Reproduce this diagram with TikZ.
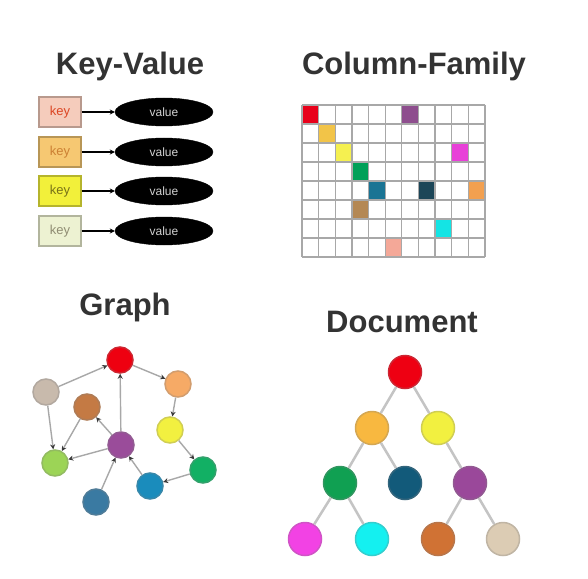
\documentclass[tikz,border=0pt]{standalone}
\usepackage{fontspec}
\setmainfont{Liberation Sans}
\usetikzlibrary{shapes.geometric,arrows.meta}
\definecolor{titlec}{HTML}{333333}
\definecolor{gridc}{HTML}{A8A8A8}
\definecolor{gedge}{HTML}{A8A8A8}
\definecolor{dedge}{HTML}{C4C4C4}
\definecolor{tipc}{HTML}{3A3A3A}
\tikzset{
  title/.style={font=\bfseries\fontsize{31bp}{36bp}\selectfont, text=titlec, anchor=base, inner sep=0pt},
  keybox/.style={draw=#1!75!black, line width=1.2bp, fill=#1, minimum width=42bp, minimum height=30bp, inner sep=0pt, font=\fontsize{13bp}{15bp}\selectfont},
  valbox/.style={ellipse, fill=black, draw=black, minimum width=98bp, minimum height=28bp, inner sep=0pt, text=white!82!black, font=\fontsize{12bp}{14bp}\selectfont},
  kvarrow/.style={line width=1.5bp, -{Stealth[length=5bp,width=5bp]}},
  gnode/.style={circle, fill=#1, draw=#1!70!gray, line width=1.5bp, minimum size=26bp, inner sep=0pt},
  garrow/.style={draw=gedge, line width=1.4bp, -{Stealth[length=5bp,width=5bp,color=tipc]}},
  dnode/.style={circle, fill=#1, draw=#1!70!gray, line width=1.5bp, minimum size=33bp, inner sep=0pt},
  dline/.style={draw=dedge, line width=2.5bp},
  gridline/.style={draw=gridc, line width=1.3bp}
}
\begin{document}
\begin{tikzpicture}[x=1bp,y=-1bp]
\useasboundingbox (0,0) rectangle (588,579);
\fill[white] (0,0) rectangle (588,579);

% titles
\node[title] (tkv) at (130,75) {Key-Value};
\node[title] (tcf) at (414,75) {Column-Family};
\node[title] (tg) at (125,315) {Graph};
\node[title] (td) at (402,332) {Document};

% key-value
\definecolor{k1}{HTML}{F5CCBC}
\definecolor{k2}{HTML}{F6C872}
\definecolor{k3}{HTML}{F2F03A}
\definecolor{k4}{HTML}{EDF2D2}
\node[keybox=k1, text=red!45!brown] (key1) at (60,112) {key};
\node[keybox=k2, text=brown!80!orange] (key2) at (60,152) {key};
\node[keybox=k3, text=olive!80!black] (key3) at (60,191) {key};
\node[keybox=k4, text=gray!80!olive] (key4) at (60,231) {key};
\node[valbox] (val1) at (164,112) {value};
\node[valbox] (val2) at (164,152) {value};
\node[valbox] (val3) at (164,191) {value};
\node[valbox] (val4) at (164,231) {value};
\foreach \i in {1,...,4} {\draw[kvarrow] (key\i) -- (val\i);}

% column family grid: 11 cols x 8 rows
\def\gx{302}\def\gy{105}
\def\cw{16.636}\def\ch{19}
\definecolor{c1}{HTML}{E8001A}
\definecolor{c2}{HTML}{8E4E8E}
\definecolor{c3}{HTML}{F2C448}
\definecolor{c4}{HTML}{F5F050}
\definecolor{c5}{HTML}{E840D8}
\definecolor{c6}{HTML}{00A058}
\definecolor{c7}{HTML}{1A7494}
\definecolor{c8}{HTML}{1C4658}
\definecolor{c9}{HTML}{F2A050}
\definecolor{c10}{HTML}{B48854}
\definecolor{c11}{HTML}{14E4E4}
\definecolor{c12}{HTML}{F4A898}
\foreach \c/\r/\col in {0/0/c1, 6/0/c2, 1/1/c3, 2/2/c4, 9/2/c5, 3/3/c6, 4/4/c7, 7/4/c8, 10/4/c9, 3/5/c10, 8/6/c11, 5/7/c12} {
  \fill[\col] ({\gx+\c*\cw},{\gy+\r*\ch}) rectangle ++(\cw,\ch);
}
\foreach \c in {0,...,11} {\draw[gridline] ({\gx+\c*\cw},\gy) -- ++(0,152);}
\foreach \r in {0,...,8} {\draw[gridline] (\gx,{\gy+\r*\ch}) -- ++(183,0);}

% graph
\definecolor{g1}{HTML}{EE0010}
\definecolor{g2}{HTML}{C8BAAC}
\definecolor{g3}{HTML}{F6AA66}
\definecolor{g4}{HTML}{C47A44}
\definecolor{g5}{HTML}{F2F040}
\definecolor{g6}{HTML}{9A4C9A}
\definecolor{g7}{HTML}{9CD456}
\definecolor{g8}{HTML}{12B064}
\definecolor{g9}{HTML}{1A8CBC}
\definecolor{g10}{HTML}{3A7AA2}
\node[gnode=g1] (gred) at (120,360) {};
\node[gnode=g2] (gtan) at (46,392) {};
\node[gnode=g3] (gora) at (178,384) {};
\node[gnode=g4] (gbrn) at (87,407) {};
\node[gnode=g5] (gyel) at (170,430) {};
\node[gnode=g6] (gpur) at (121,445) {};
\node[gnode=g7] (glgr) at (55,463) {};
\node[gnode=g8] (ggrn) at (203,470) {};
\node[gnode=g9] (gblu) at (150,486) {};
\node[gnode=g10] (gdbl) at (96,502) {};
\draw[garrow] (gtan) -- (gred);
\draw[garrow] (gred) -- (gora);
\draw[garrow] (gora) -- (gyel);
\draw[garrow] (gyel) -- (ggrn);
\draw[garrow] (ggrn) -- (gblu);
\draw[garrow] (gblu) -- (gpur);
\draw[garrow] (gdbl) -- (gpur);
\draw[garrow] (gpur) -- (gred);
\draw[garrow] (gpur) -- (gbrn);
\draw[garrow] (gpur) -- (glgr);
\draw[garrow] (gbrn) -- (glgr);
\draw[garrow] (gtan) -- (glgr);

% document tree
\definecolor{d1}{HTML}{EE0012}
\definecolor{d2}{HTML}{F8B840}
\definecolor{d3}{HTML}{F2F040}
\definecolor{d4}{HTML}{10A052}
\definecolor{d5}{HTML}{125A7A}
\definecolor{d6}{HTML}{9A489A}
\definecolor{d7}{HTML}{F242E4}
\definecolor{d8}{HTML}{14F0F0}
\definecolor{d9}{HTML}{D07234}
\definecolor{d10}{HTML}{DCCCB4}
\node[dnode=d1] (dred) at (405,372) {};
\node[dnode=d2] (dora) at (372,428) {};
\node[dnode=d3] (dyel) at (438,428) {};
\node[dnode=d4] (dgrn) at (340,483) {};
\node[dnode=d5] (dblu) at (405,483) {};
\node[dnode=d6] (dpur) at (470,483) {};
\node[dnode=d7] (dmag) at (305,539) {};
\node[dnode=d8] (dcya) at (372,539) {};
\node[dnode=d9] (dbrn) at (438,539) {};
\node[dnode=d10] (dbei) at (503,539) {};
\draw[dline] (dred) -- (dora);
\draw[dline] (dred) -- (dyel);
\draw[dline] (dora) -- (dgrn);
\draw[dline] (dora) -- (dblu);
\draw[dline] (dyel) -- (dpur);
\draw[dline] (dgrn) -- (dmag);
\draw[dline] (dgrn) -- (dcya);
\draw[dline] (dpur) -- (dbrn);
\draw[dline] (dpur) -- (dbei);
\end{tikzpicture}
\end{document}
